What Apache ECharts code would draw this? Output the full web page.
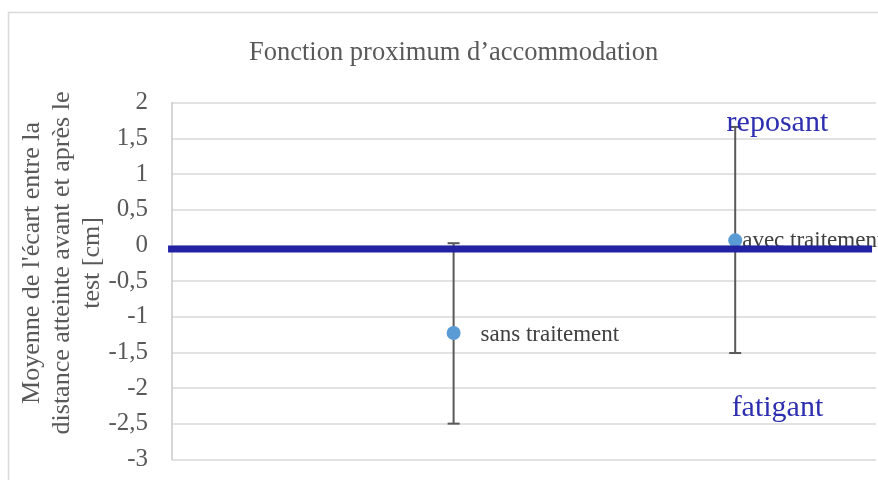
<!DOCTYPE html>
<html>
<head>
<meta charset="utf-8">
<script src="https://cdn.jsdelivr.net/npm/echarts@6/dist/echarts.min.js"></script>
<style>
  html, body { margin: 0; padding: 0; background: #fff; }
  #chart { width: 878px; height: 480px; }
</style>
</head>
<body>
<div id="chart"></div>
<script>
// values
const categories = ['sans traitement', 'avec traitement'];
const xPositions = [1, 2];
const means = [-1.23, 0.07];
const errLow = [-2.5, -1.51];
const errHigh = [0.03, 1.66];
const yRange = [-3, 2];
const yStep = 0.5;
const xRange = [0, 2.5];
const zoneLabels = ['reposant', 'fatigant'];
const zoneX = [2.15, 2.15];
const zoneY = [1.72, -2.28];
const baselineX = [-0.014, 2.486];
const baselineY = -0.05;

const font = 'Liberation Serif';

const chartInit = () => {
  const $chartEl = document.getElementById('chart');
  const chart = echarts.init($chartEl);

  const pointData = categories.map((name, i) => ({
    name,
    value: [xPositions[i], means[i]],
    label: i === 0
      ? { position: 'right', distance: 20, offset: [0, 2] }
      : { position: 'right', distance: 0, offset: [0, 1] }
  }));

  const option = {
    animation: false,
    title: {
      text: 'Fonction proximum d\u2019accommodation',
      left: 244,
      top: 35,
      textStyle: { fontFamily: font, fontSize: 26.5, fontWeight: 'normal', color: '#595959' }
    },
    graphic: [
      {
        type: 'rect',
        shape: { x: 8.5, y: 12.5, width: 900, height: 500 },
        style: { fill: 'none', stroke: '#d9d9d9', lineWidth: 1.5 },
        silent: true
      },
      {
        type: 'text',
        x: 62,
        y: 263,
        rotation: Math.PI / 2,
        style: {
          text: 'Moyenne de l\'écart entre la\ndistance atteinte avant et après le\ntest [cm]',
          font: '26px "Liberation Serif"',
          fill: '#595959',
          align: 'center',
          verticalAlign: 'middle',
          lineHeight: 30
        }
      }
    ],
    grid: { left: 172, right: 2, top: 102.7, bottom: 20.7 },
    xAxis: {
      type: 'value',
      min: xRange[0],
      max: xRange[1],
      show: false
    },
    yAxis: {
      type: 'value',
      min: yRange[0],
      max: yRange[1],
      interval: yStep,
      axisLine: { show: true, lineStyle: { color: '#c8c8c8', width: 1.5 } },
      axisTick: { show: false },
      splitLine: { lineStyle: { color: '#d9d9d9', width: 1.5 } },
      axisLabel: {
        margin: 24,
        fontFamily: font,
        fontSize: 25,
        color: '#595959',
        formatter: v => String(v).replace('.', ',')
      }
    },
    series: [
      {
        type: 'custom',
        z: 2,
        data: xPositions.map((x, i) => [x, errLow[i], errHigh[i]]),
        renderItem: (params, api) => {
          const x = api.value(0);
          const lo = api.coord([x, api.value(1)]);
          const hi = api.coord([x, api.value(2)]);
          const cap = 6;
          const style = { stroke: '#595959', lineWidth: 2 };
          return {
            type: 'group',
            children: [
              { type: 'line', shape: { x1: lo[0], y1: lo[1], x2: hi[0], y2: hi[1] }, style },
              { type: 'line', shape: { x1: lo[0] - cap, y1: lo[1], x2: lo[0] + cap, y2: lo[1] }, style },
              { type: 'line', shape: { x1: hi[0] - cap, y1: hi[1], x2: hi[0] + cap, y2: hi[1] }, style }
            ]
          };
        }
      },
      {
        type: 'scatter',
        z: 3,
        symbolSize: 14,
        itemStyle: { color: '#5b9bd5', opacity: 1 },
        label: {
          show: true,
          formatter: '{b}',
          fontFamily: font,
          fontSize: 23,
          color: '#404040'
        },
        data: pointData
      },
      {
        type: 'line',
        z: 5,
        clip: false,
        symbol: 'none',
        lineStyle: { color: '#2222a4', width: 7 },
        data: baselineX.map(x => [x, baselineY])
      },
      {
        type: 'scatter',
        z: 6,
        symbolSize: 0,
        itemStyle: { opacity: 1 },
        label: {
          show: true,
          position: 'inside',
          formatter: '{b}',
          fontFamily: font,
          fontSize: 30,
          color: '#2e2eb0',
          textBorderWidth: 0
        },
        data: zoneLabels.map((name, i) => ({ name, value: [zoneX[i], zoneY[i]] }))
      }
    ]
  };

  chart.setOption(option);
};

chartInit();
</script>
</body>
</html>
